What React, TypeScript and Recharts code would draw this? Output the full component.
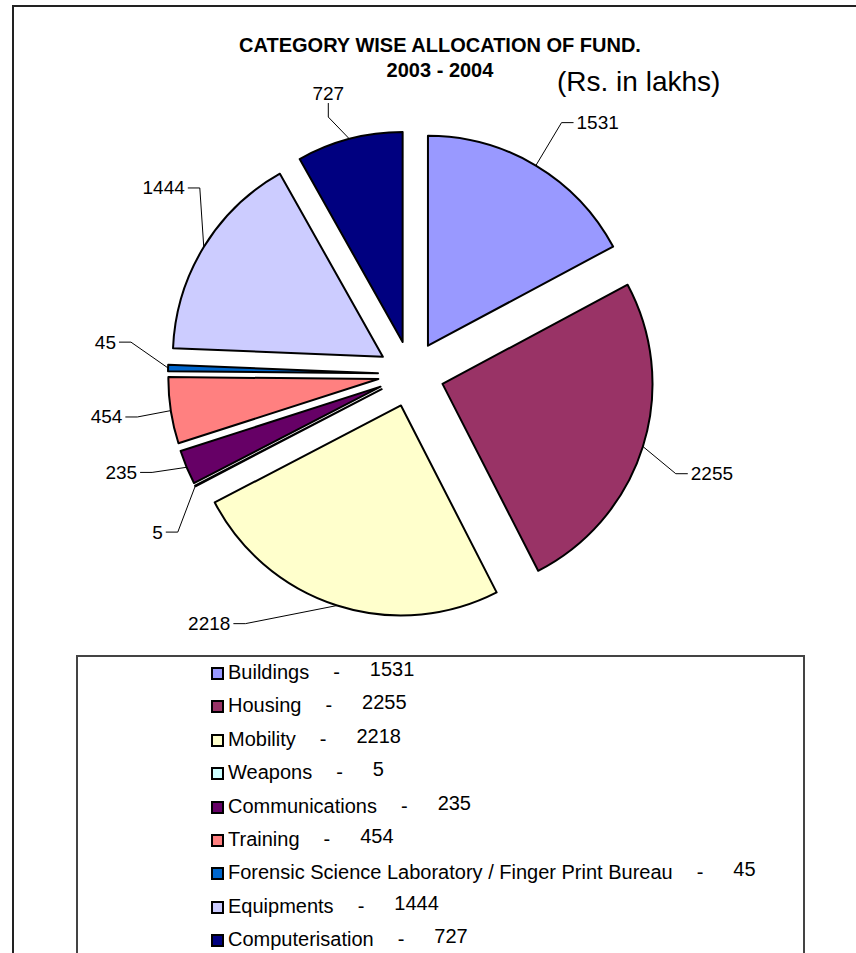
import React from "react";
import { PieChart, Pie, Sector, Legend } from "recharts";

const categories = [
  "Buildings",
  "Housing",
  "Mobility",
  "Weapons",
  "Communications",
  "Training",
  "Forensic Science Laboratory / Finger Print Bureau",
  "Equipments",
  "Computerisation",
];
const amounts = [1531, 2255, 2218, 5, 235, 454, 45, 1444, 727];
const colors = ["#9999FF", "#993366", "#FFFFCC", "#CCFFFF", "#660066", "#FF8080", "#0066CC", "#CCCCFF", "#000080"];

// data labels were dragged by hand in the original: [angle nudge in deg, leader reach]
const labelNudge = [
  [0, 260],
  [-3.7, 250],
  [-17.8, 268],
  [7.6, 249],
  [-2, 244],
  [0.3, 244],
  [-5.75, 249],
  [-11.2, 249],
  [3.6, 237],
];

const data = categories.map((name, i) => ({ name, value: amounts[i] }));

const FONT = "'Liberation Sans', Arial, sans-serif";
const RAD = Math.PI / 180;
const EXPLODE = 33;

const polar = (x: number, y: number, r: number, a: number) => ({
  x: x + r * Math.cos(-a * RAD),
  y: y + r * Math.sin(-a * RAD),
});

// draws the exploded slice plus its leader line and value
const renderSlice = (props: any) => {
  const { cx, cy, outerRadius, startAngle, endAngle, midAngle, index } = props;
  const c = polar(cx, cy, EXPLODE, midAngle);
  const [nudge, reach] = labelNudge[index];
  const p1 = polar(c.x, c.y, outerRadius, midAngle);
  const a2 = midAngle + nudge;
  const p2 = polar(c.x, c.y, reach, a2);
  const vertical = Math.abs(Math.sin(a2 * RAD)) > 0.93;
  const right = Math.cos(a2 * RAD) > 0;
  let p3, tx, ty, anchor;
  if (vertical) {
    p3 = { x: p2.x, y: p2.y - 14 };
    tx = p3.x;
    ty = p3.y - 10;
    anchor = "middle";
  } else {
    p3 = { x: p2.x + (right ? 12 : -12), y: p2.y };
    tx = p3.x + (right ? 3 : -3);
    ty = p3.y;
    anchor = right ? "start" : "end";
  }
  return (
    <g key={`slice-${index}`}>
      <Sector
        cx={c.x}
        cy={c.y}
        innerRadius={0}
        outerRadius={outerRadius}
        startAngle={startAngle}
        endAngle={endAngle}
        fill={colors[index]}
        stroke="#000"
        strokeWidth={2}
        strokeLinejoin="round"
      />
      <polyline
        points={`${p1.x},${p1.y} ${p2.x},${p2.y} ${p3.x},${p3.y}`}
        fill="none"
        stroke="#000"
        strokeWidth={1}
      />
      <text
        x={tx}
        y={ty}
        textAnchor={anchor}
        dominantBaseline="central"
        fontFamily={FONT}
        fontSize={19}
        fill="#000"
      >
        {amounts[index]}
      </text>
    </g>
  );
};

const LegendBox = () => (
  <div
    style={{
      position: "relative",
      width: "100%",
      height: "100%",
      boxSizing: "border-box",
      border: "2px solid #444",
      background: "#fff",
      fontFamily: FONT,
      fontSize: 20,
      color: "#000",
    }}
  >
    {categories.map((name, i) => (
      <div
        key={name}
        style={{
          position: "absolute",
          left: 133,
          top: 3 + i * 33.375,
          height: 24,
          lineHeight: "24px",
          display: "flex",
          alignItems: "center",
          whiteSpace: "nowrap",
        }}
      >
        <span
          style={{
            display: "inline-block",
            width: 9,
            height: 9,
            border: "2px solid #000",
            background: colors[i],
            marginRight: 4,
            marginTop: 3,
          }}
        />
        <span>{name}</span>
        <span style={{ marginLeft: 24 }}>-</span>
        <span style={{ marginLeft: 30, position: "relative", top: -3 }}>{amounts[i]}</span>
      </div>
    ))}
  </div>
);

export default function App() {
  return (
    <div
      style={{
        position: "absolute",
        left: 0,
        top: 0,
        width: 856,
        height: 953,
        overflow: "hidden",
        background: "#fff",
      }}
    >
      <div
        style={{
          position: "absolute",
          left: 12,
          top: 5,
          width: 900,
          height: 1000,
          border: "2px solid #222",
        }}
      />
      <div
        style={{
          position: "absolute",
          left: 0,
          width: 880,
          top: 33,
          textAlign: "center",
          fontFamily: FONT,
          fontWeight: "bold",
          fontSize: 20,
          lineHeight: "25px",
        }}
      >
        <div>CATEGORY WISE ALLOCATION OF FUND.</div>
        <div>2003 - 2004</div>
      </div>
      <div
        style={{
          position: "absolute",
          left: 557,
          top: 66,
          fontFamily: FONT,
          fontSize: 28,
          lineHeight: "32px",
        }}
      >
        (Rs. in lakhs)
      </div>
      <PieChart width={856} height={953} margin={{ top: 0, right: 0, bottom: 0, left: 0 }}>
        <Pie
          data={data}
          dataKey="value"
          nameKey="name"
          cx={411}
          cy={374}
          outerRadius={210}
          startAngle={90}
          endAngle={-270}
          fill="transparent"
          stroke="none"
          isAnimationActive={false}
          labelLine={false}
          label={renderSlice}
        />
        <Legend
          content={() => <LegendBox />}
          wrapperStyle={{ left: 76, top: 655, bottom: "auto", width: 729, height: 330 }}
        />
      </PieChart>
    </div>
  );
}
